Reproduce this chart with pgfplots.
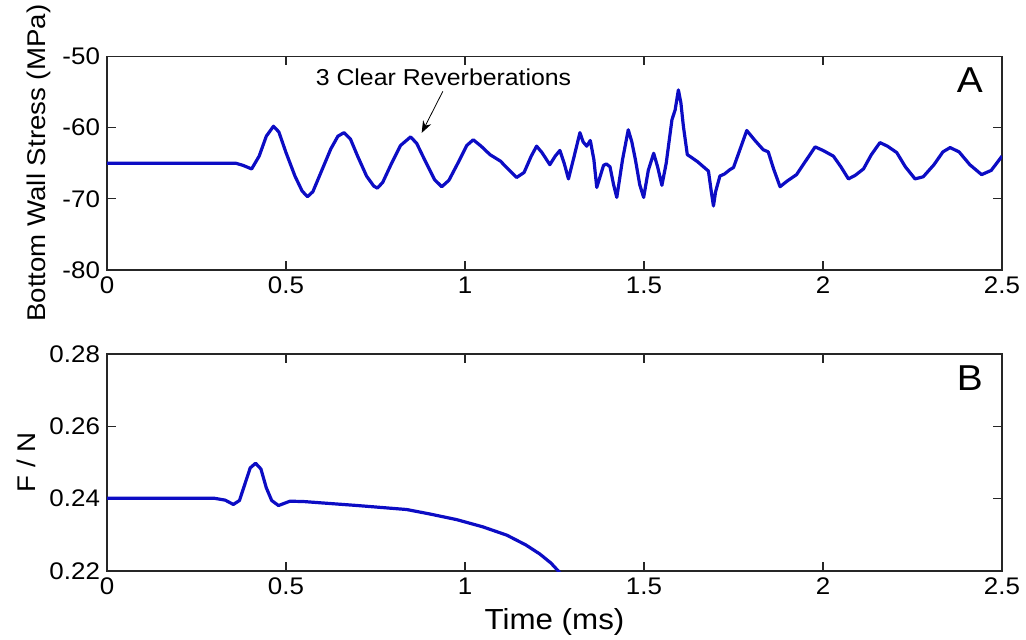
\documentclass[border=0pt]{standalone}
\usepackage{fontspec}
\setmainfont{Liberation Sans}[FakeStretch=1.08]
\usepackage{pgfplots}
\pgfplotsset{compat=1.18}
\usetikzlibrary{arrows.meta}
\definecolor{traceblue}{RGB}{12,12,196}

\pgfplotsset{
  panel/.style={
    width=447.5pt, scale only axis,
    xmin=0, xmax=2.5,
    xtick={0,0.5,1,1.5,2,2.5},
    tick align=inside, major tick length=4.5pt,
    axis line style={line width=0.6pt, black!85},
    every tick/.append style={line width=0.6pt, black!85},
    scaled ticks=false,
    /pgf/number format/assume math mode=true,
    tick label style={font=\fontsize{12}{14}\selectfont},
    label style={font=\fontsize{12.8}{15}\selectfont},
    clip=true,
  },
  trace/.style={traceblue, line width=1.6pt, line join=round, no marks},
}

\begin{document}
\begin{tikzpicture}

% Panel A: stress on the bottom wall
\begin{axis}[panel,
  at={(53.5pt,-28.25pt)}, anchor=north west,
  height=106.75pt,
  ymin=-80, ymax=-50, ytick={-80,-70,-60,-50},
  ylabel={Bottom Wall Stress (MPa)},
  ylabel style={yshift=-1pt},
]
\addplot[trace] table {
0 -65
0.36 -65
0.38 -65.3
0.404 -65.8
0.425 -64.0
0.445 -61.2
0.465 -59.8
0.48 -60.6
0.50 -63.5
0.525 -66.8
0.545 -68.9
0.56 -69.7
0.575 -69.0
0.60 -66.0
0.625 -63.0
0.645 -61.2
0.662 -60.7
0.68 -61.6
0.70 -64.0
0.725 -66.8
0.745 -68.2
0.755 -68.5
0.77 -67.7
0.795 -65.0
0.82 -62.5
0.848 -61.3
0.865 -62.2
0.89 -64.8
0.915 -67.3
0.935 -68.3
0.955 -67.4
0.98 -65.0
1.005 -62.5
1.023 -61.7
1.045 -62.6
1.07 -63.8
1.099 -64.7
1.12 -65.8
1.144 -67.0
1.165 -66.3
1.185 -64.0
1.20 -62.6
1.215 -63.5
1.237 -65.2
1.252 -64.0
1.265 -63.2
1.277 -65.0
1.289 -67.2
1.305 -64.0
1.321 -60.7
1.33 -62.0
1.34 -62.6
1.35 -61.8
1.36 -64.5
1.368 -68.4
1.387 -65.3
1.395 -65.1
1.405 -65.5
1.415 -68.0
1.424 -69.8
1.44 -64.5
1.456 -60.3
1.466 -62.0
1.476 -64.5
1.488 -68.0
1.499 -69.8
1.512 -66.0
1.527 -63.6
1.538 -65.5
1.55 -68.1
1.562 -65.0
1.578 -58.9
1.587 -57.5
1.596 -54.7
1.603 -56.5
1.61 -59.8
1.621 -63.8
1.633 -64.2
1.65 -64.8
1.666 -65.5
1.68 -66.1
1.688 -69.0
1.694 -71.0
1.70 -69.0
1.712 -66.8
1.725 -66.5
1.74 -65.9
1.75 -65.6
1.765 -63.5
1.787 -60.4
1.81 -61.8
1.833 -63.1
1.847 -63.4
1.862 -65.8
1.88 -68.3
1.90 -67.5
1.926 -66.6
1.95 -64.8
1.978 -62.7
2.00 -63.2
2.029 -64.0
2.05 -65.5
2.071 -67.2
2.09 -66.7
2.113 -65.8
2.135 -63.8
2.159 -62.1
2.18 -62.6
2.206 -63.5
2.23 -65.5
2.257 -67.2
2.28 -66.9
2.31 -65.2
2.335 -63.4
2.355 -62.8
2.38 -63.4
2.41 -65.2
2.443 -66.6
2.47 -66.0
2.50 -64.0
};
\node[font=\fontsize{11.5}{14}\selectfont] at (axis cs:0.94,-52.9) {3 Clear Reverberations};
\draw[line width=0.4pt, -{Stealth[length=6pt,width=4.5pt]}] (axis cs:0.938,-54.9) -- (axis cs:0.879,-60.74);
\node[font=\fontsize{18}{20}\selectfont] at (rel axis cs:0.964,0.89) {A};
\end{axis}

% Panel B: force ratio
\begin{axis}[panel,
  at={(53.5pt,-177pt)}, anchor=north west,
  height=108.5pt,
  ymin=0.22, ymax=0.28, ytick={0.22,0.24,0.26,0.28},
  yticklabel style={/pgf/number format/.cd, fixed, fixed zerofill, precision=2},
  ylabel={F / N},
  xlabel={Time (ms)},
  xlabel style={font=\fontsize{14.5}{16}\selectfont},
]
\addplot[trace] table {
0 0.2401
0.30 0.2401
0.33 0.2396
0.353 0.2384
0.37 0.2395
0.385 0.2440
0.40 0.2485
0.415 0.2498
0.43 0.2482
0.445 0.2430
0.46 0.2395
0.479 0.2381
0.495 0.2387
0.511 0.2393
0.55 0.2392
0.604 0.2388
0.70 0.2381
0.837 0.2370
0.90 0.2358
0.977 0.2342
1.05 0.2322
1.117 0.2299
1.17 0.2272
1.209 0.2247
1.24 0.2222
1.27 0.2190
};
\node[font=\fontsize{18}{20}\selectfont] at (rel axis cs:0.964,0.89) {B};
\end{axis}

\pgfresetboundingbox
\path[use as bounding box] (0,0) rectangle (513pt,-320pt);
\end{tikzpicture}
\end{document}
